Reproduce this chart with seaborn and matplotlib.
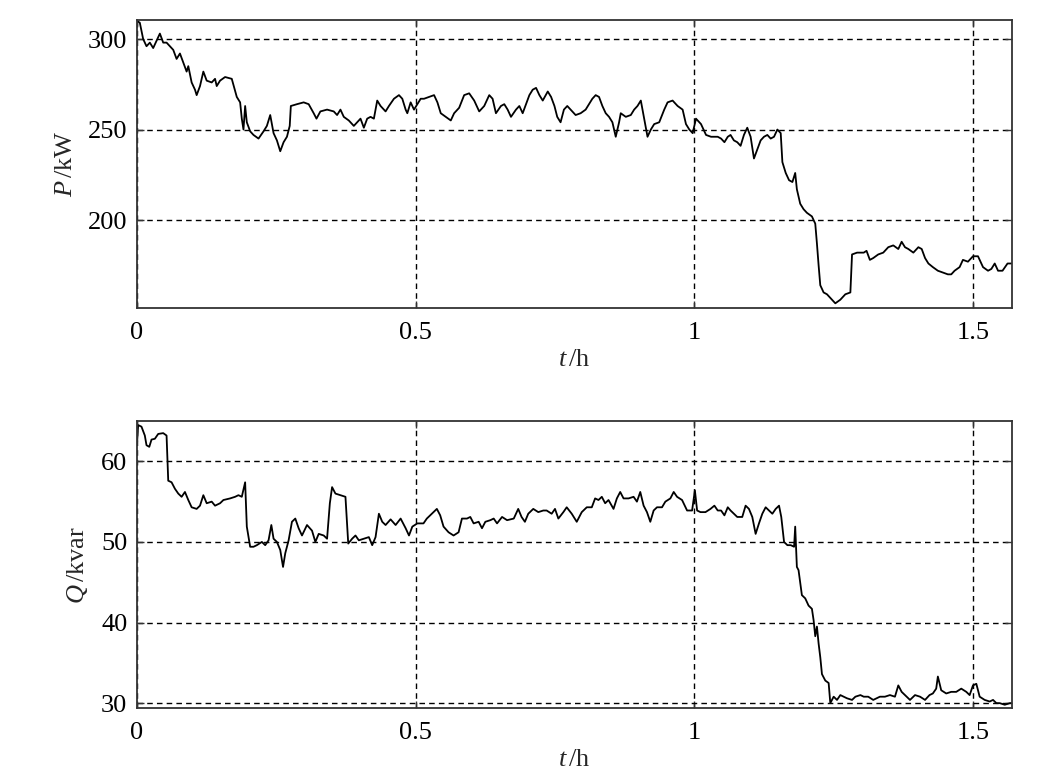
import numpy as np
import pandas as pd
import matplotlib
matplotlib.use("Agg")
import matplotlib.pyplot as plt
import seaborn as sns

# ---- data ----
t_p = [0.000, 0.005, 0.011, 0.017, 0.023, 0.029, 0.035, 0.041, 0.047, 0.053, 0.059, 0.065, 0.071, 0.077,
       0.083, 0.089, 0.092, 0.098, 0.104, 0.107, 0.113, 0.119, 0.125, 0.134, 0.140, 0.143, 0.149, 0.158,
       0.170, 0.179, 0.185, 0.188, 0.191, 0.194, 0.197, 0.203, 0.209, 0.218, 0.227, 0.233, 0.239, 0.245,
       0.251, 0.257, 0.263, 0.269, 0.274, 0.276, 0.287, 0.299, 0.308, 0.317, 0.322, 0.329, 0.341, 0.353,
       0.359, 0.365, 0.371, 0.380, 0.389, 0.395, 0.401, 0.407, 0.413, 0.419, 0.425, 0.431, 0.437, 0.446,
       0.452, 0.461, 0.470, 0.476, 0.482, 0.485, 0.491, 0.497,
       0.509, 0.515, 0.524, 0.533, 0.539, 0.545, 0.554, 0.563, 0.569, 0.578, 0.587, 0.596, 0.605, 0.614,
       0.623, 0.632, 0.638, 0.644, 0.653, 0.659, 0.665, 0.671, 0.680, 0.686, 0.692, 0.698, 0.704, 0.710,
       0.716, 0.722, 0.728, 0.737, 0.743, 0.749, 0.754, 0.760, 0.766, 0.772, 0.778, 0.787, 0.796, 0.805,
       0.811, 0.817, 0.823, 0.829, 0.835, 0.841, 0.847, 0.853, 0.859, 0.865, 0.868, 0.877, 0.886, 0.892,
       0.898, 0.904, 0.910, 0.916, 0.922, 0.928, 0.937, 0.946, 0.952, 0.961, 0.970, 0.979, 0.985, 0.991,
       0.997, 1.003, 1.012, 1.021, 1.030,
       1.042, 1.048, 1.054, 1.060, 1.065, 1.071, 1.077, 1.083, 1.089, 1.095, 1.101, 1.107, 1.113, 1.119,
       1.125, 1.131, 1.137, 1.143, 1.149, 1.155, 1.158, 1.164, 1.170, 1.176, 1.181, 1.184, 1.190, 1.196,
       1.202, 1.211, 1.217, 1.220, 1.223, 1.226, 1.232, 1.238, 1.244, 1.253, 1.262, 1.271, 1.280, 1.283,
       1.292, 1.304, 1.309, 1.315, 1.321, 1.330, 1.339, 1.348, 1.357, 1.366, 1.372, 1.378, 1.384, 1.393,
       1.402, 1.408, 1.414, 1.420, 1.428, 1.437, 1.446, 1.455, 1.461, 1.467, 1.476, 1.482, 1.491, 1.500,
       1.509, 1.518, 1.527, 1.533, 1.539, 1.545, 1.553, 1.562, 1.570]
p_kw = [310, 309, 300, 296, 298, 295, 299, 303, 298, 298, 296, 294, 289, 292,
        287, 282, 285, 276, 272, 269, 274, 282, 277, 276, 278, 274, 277, 279,
        278, 268, 265, 256, 250, 263, 254, 249, 247, 245, 249, 252, 258, 248,
        244, 238, 243, 246, 252, 263, 264, 265, 264, 259, 256, 260, 261, 260,
        258, 261, 257, 255, 252, 254, 256, 251, 256, 257, 256, 266, 263, 260,
        263, 267, 269, 267, 261, 259, 265, 261,
        267, 267, 268, 269, 265, 259, 257, 255, 259, 262, 269, 270, 266, 260,
        263, 269, 267, 259, 263, 264, 261, 257, 261, 263, 259, 264, 269, 272,
        273, 269, 266, 271, 268, 263, 257, 254, 261, 263, 261, 258, 259, 261,
        264, 267, 269, 268, 263, 259, 257, 254, 246, 254, 259, 257, 258, 261,
        263, 266, 256, 246, 250, 253, 254, 261, 265, 266, 263, 261, 253, 250,
        248, 256, 253, 247, 246,
        246, 245, 243, 246, 247, 244, 243, 241, 247, 251, 246, 234, 239, 244,
        246, 247, 245, 246, 250, 248, 232, 226, 222, 221, 226, 217, 209, 206,
        204, 202, 198, 187, 175, 164, 160, 159, 157, 154, 156, 159, 160, 181,
        182, 182, 183, 178, 179, 181, 182, 185, 186, 184, 188, 185, 184, 182,
        185, 184, 179, 176, 174, 172, 171, 170, 170, 172, 174, 178, 177, 180,
        180, 174, 172, 173, 176, 172, 172, 176, 176]

t_q = [0.000, 0.002, 0.008, 0.014, 0.017, 0.022, 0.026, 0.032, 0.038, 0.047, 0.053, 0.056, 0.062, 0.068,
       0.074, 0.080, 0.086, 0.092, 0.098, 0.107, 0.113, 0.119, 0.125, 0.134, 0.140, 0.149, 0.155, 0.167,
       0.176, 0.182, 0.188, 0.194, 0.197, 0.203, 0.209, 0.215, 0.224, 0.230, 0.236, 0.241, 0.245, 0.251,
       0.257, 0.262, 0.266, 0.272, 0.278, 0.284, 0.290, 0.296, 0.305, 0.314, 0.320, 0.326, 0.335, 0.341,
       0.346, 0.350, 0.356, 0.365, 0.374, 0.379, 0.386, 0.392, 0.398, 0.407, 0.416, 0.422, 0.428, 0.434,
       0.440, 0.446, 0.455, 0.464, 0.473, 0.482, 0.488, 0.494, 0.503,
       0.508, 0.514, 0.520, 0.529, 0.538, 0.544, 0.550, 0.559, 0.568, 0.577, 0.583, 0.592, 0.598, 0.604,
       0.613, 0.619, 0.625, 0.634, 0.640, 0.646, 0.655, 0.664, 0.676, 0.684, 0.690, 0.696, 0.702, 0.711,
       0.720, 0.729, 0.735, 0.744, 0.750, 0.756, 0.765, 0.771, 0.780, 0.789, 0.798, 0.807, 0.816, 0.822,
       0.828, 0.834, 0.840, 0.846, 0.855, 0.861, 0.867, 0.873, 0.882, 0.891, 0.897, 0.903, 0.909, 0.915,
       0.921, 0.927, 0.933, 0.942, 0.948, 0.957, 0.963, 0.969, 0.978, 0.987, 0.996, 1.001, 1.005, 1.011,
       1.020, 1.029,
       1.036, 1.042, 1.048, 1.054, 1.060, 1.065, 1.071, 1.077, 1.086, 1.092, 1.098, 1.104, 1.110, 1.116,
       1.122, 1.128, 1.134, 1.140, 1.146, 1.152, 1.156, 1.161, 1.167, 1.173, 1.179, 1.181, 1.184, 1.187,
       1.193, 1.199, 1.205, 1.211, 1.214, 1.217, 1.220, 1.223, 1.226, 1.229, 1.235, 1.241, 1.244, 1.250,
       1.256, 1.262, 1.268, 1.274, 1.283, 1.289, 1.298, 1.304, 1.312, 1.321, 1.327, 1.333, 1.342, 1.351,
       1.360, 1.366, 1.372, 1.381, 1.387, 1.396, 1.405, 1.414, 1.422, 1.428, 1.434, 1.437, 1.443, 1.452,
       1.461, 1.470, 1.479, 1.488, 1.494, 1.500, 1.506, 1.512, 1.521, 1.530, 1.536, 1.542, 1.548, 1.557,
       1.566, 1.570]
q_kvar = [62.2, 64.5, 64.3, 63.2, 62.0, 61.8, 62.7, 62.8, 63.4, 63.5, 63.2, 57.6, 57.4, 56.6,
          56.0, 55.6, 56.2, 55.2, 54.3, 54.1, 54.5, 55.8, 54.8, 55.0, 54.5, 54.8, 55.2, 55.4,
          55.6, 55.8, 55.6, 57.4, 51.9, 49.4, 49.4, 49.6, 50.0, 49.6, 50.2, 52.1, 50.4, 50.0,
          49.0, 46.9, 48.6, 50.2, 52.5, 52.9, 51.7, 50.8, 52.1, 51.4, 50.0, 51.0, 50.8, 50.4,
          54.8, 56.8, 56.0, 55.8, 55.6, 49.8, 50.4, 50.8, 50.2, 50.4, 50.6, 49.6, 50.6, 53.5,
          52.5, 52.1, 52.8, 52.1, 52.9, 51.7, 50.8, 51.9, 52.3,
          52.3, 52.3, 52.9, 53.5, 54.1, 53.3, 51.9, 51.2, 50.8, 51.2, 52.9, 52.9, 53.1, 52.3,
          52.5, 51.7, 52.5, 52.7, 52.9, 52.3, 53.1, 52.7, 52.9, 54.1, 53.1, 52.5, 53.5, 54.1,
          53.7, 53.9, 53.9, 53.5, 54.1, 52.9, 53.7, 54.3, 53.5, 52.5, 53.7, 54.3, 54.3, 55.4,
          55.2, 55.6, 54.8, 55.2, 54.1, 55.4, 56.2, 55.4, 55.4, 55.6, 55.0, 56.2, 54.5, 53.7,
          52.5, 53.9, 54.3, 54.3, 55.0, 55.4, 56.2, 55.6, 55.2, 53.9, 53.9, 56.4, 53.9, 53.7,
          53.7, 54.1,
          54.5, 53.9, 53.9, 53.3, 54.3, 53.9, 53.5, 53.1, 53.1, 54.5, 54.1, 53.1, 51.0, 52.3,
          53.5, 54.3, 53.9, 53.5, 54.1, 54.5, 53.1, 50.0, 49.6, 49.6, 49.4, 51.9, 46.9, 46.5,
          43.4, 43.0, 42.1, 41.7, 40.3, 38.3, 39.5, 37.4, 35.7, 33.6, 32.8, 32.5, 30.0, 30.8,
          30.4, 31.0, 30.8, 30.6, 30.4, 30.8, 31.0, 30.8, 30.8, 30.4, 30.6, 30.8, 30.8, 31.0,
          30.8, 32.2, 31.4, 30.8, 30.4, 31.0, 30.8, 30.4, 31.0, 31.2, 31.8, 33.3, 31.6, 31.2,
          31.4, 31.4, 31.8, 31.4, 31.0, 32.2, 32.4, 30.8, 30.4, 30.2, 30.4, 30.0, 30.0, 29.8,
          30.0, 30.0]

x_ticks = [0, 0.5, 1, 1.5]
x_ticklabels = ["0", "0.5", "1", "1.5"]
p_ticks = [200, 250, 300]
q_ticks = [30, 40, 50, 60]

df_p = pd.DataFrame({"t": t_p, "P": p_kw})
df_q = pd.DataFrame({"t": t_q, "Q": q_kvar})

sns.set_theme(style="white")
plt.rcParams["font.family"] = ["Liberation Serif", "DejaVu Serif"]
plt.rcParams["mathtext.fontset"] = "custom"
plt.rcParams["mathtext.it"] = "Liberation Serif:italic"
plt.rcParams["mathtext.rm"] = "Liberation Serif"

fig = plt.figure(figsize=(10.5, 7.81), dpi=100)
ax1 = fig.add_axes([0.1305, 0.6056, 0.8333, 0.3688])
ax2 = fig.add_axes([0.1305, 0.0935, 0.8333, 0.3674])

FS = 19

def style(ax, yticks, ylim, ylabel):
    ax.set_xlim(0, 1.57)
    ax.set_ylim(*ylim)
    ax.set_xticks(x_ticks)
    ax.set_xticklabels(x_ticklabels)
    ax.set_yticks(yticks)
    ax.grid(True, color="black", linestyle=(0, (4, 3)), linewidth=1.0)
    for s in ax.spines.values():
        s.set_color("#333333")
        s.set_linewidth(1.3)
    ax.tick_params(direction="in", length=5, width=1.0, colors="#333333",
                   labelcolor="black", labelsize=FS, top=True, right=True,
                   bottom=True, left=True)
    ax.tick_params(axis="x", pad=10)
    ax.tick_params(axis="y", pad=7)
    ax.set_xlabel(r"$t\,$/h", fontsize=FS, labelpad=4)
    ax.set_ylabel(ylabel, fontsize=FS, labelpad=8)

sns.lineplot(data=df_p, x="t", y="P", ax=ax1, color="black", linewidth=1.3,
             estimator=None, sort=False)
sns.lineplot(data=df_q, x="t", y="Q", ax=ax2, color="black", linewidth=1.3,
             estimator=None, sort=False)

style(ax1, p_ticks, (151.4, 310.5), r"$P\,$/kW")
style(ax2, q_ticks, (29.4, 65.0), r"$Q\,$/kvar")

fig.savefig("out.png", dpi=100)
